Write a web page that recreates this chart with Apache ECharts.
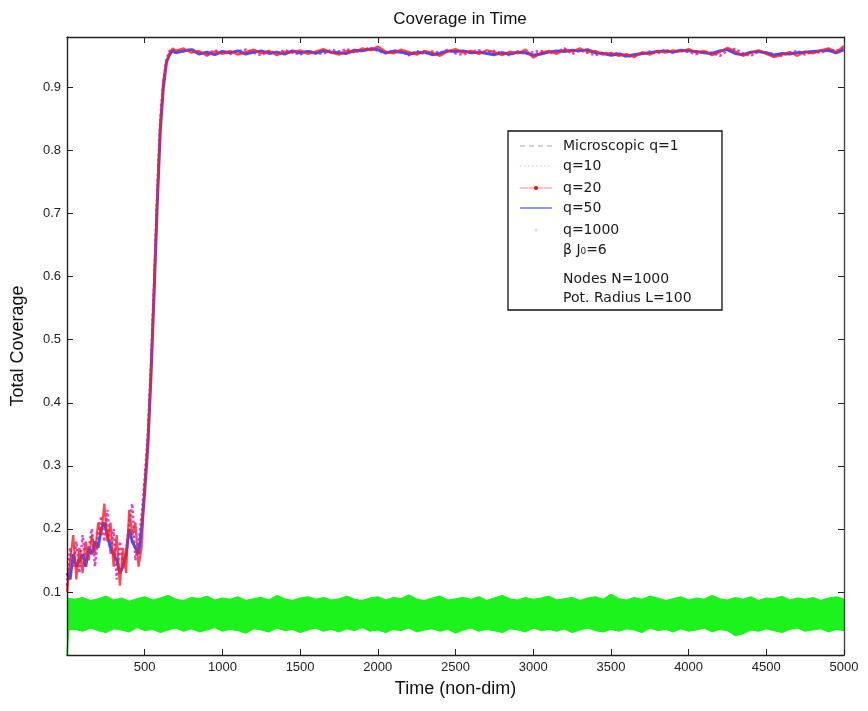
<!DOCTYPE html>
<html>
<head>
<meta charset="utf-8">
<script src="https://cdn.jsdelivr.net/npm/echarts@6/dist/echarts.min.js"></script>
<style>
  html, body { margin: 0; padding: 0; background: #fff; }
  #chart { width: 868px; height: 711px; }
</style>
</head>
<body>
<div id="chart"></div>
<script>
// time samples for the q=10 / q=20 / q=50 curves
var times = [0, 20, 40, 60, 80, 100, 120, 140, 160, 180, 200, 220, 240, 260, 280, 300, 320, 340, 360, 380,
  400, 420, 440, 460, 480, 500, 520, 540, 560, 580, 600, 620, 640, 660, 680, 700,
  750, 800, 850, 900, 950, 1000,
  1050, 1100, 1150, 1200, 1250, 1300, 1350, 1400, 1450, 1500,
  1550, 1600, 1650, 1700, 1750, 1800, 1850, 1900, 1950, 2000,
  2050, 2100, 2150, 2200, 2250, 2300, 2350, 2400, 2450, 2500,
  2550, 2600, 2650, 2700, 2750, 2800, 2850, 2900, 2950, 3000,
  3050, 3100, 3150, 3200, 3250, 3300, 3350, 3400, 3450, 3500,
  3550, 3600, 3650, 3700, 3750, 3800, 3850, 3900, 3950, 4000,
  4050, 4100, 4150, 4200, 4250, 4300, 4350, 4400, 4450, 4500,
  4550, 4600, 4650, 4700, 4750, 4800, 4850, 4900, 4950, 5000];

var q10 = [0.11, 0.17, 0.14, 0.18, 0.13, 0.19, 0.15, 0.17, 0.20, 0.14, 0.19, 0.22, 0.18, 0.23, 0.16, 0.20, 0.12, 0.18, 0.14, 0.16,
  0.21, 0.24, 0.15, 0.18, 0.22, 0.28, 0.35, 0.46, 0.59, 0.73, 0.85, 0.91, 0.945, 0.958, 0.96, 0.957,
  0.957, 0.961, 0.955, 0.953, 0.959, 0.956,
  0.953, 0.957, 0.960, 0.955, 0.951, 0.958, 0.954, 0.959, 0.956, 0.952,
  0.958, 0.955, 0.953, 0.960, 0.957, 0.961, 0.955, 0.959, 0.963, 0.958,
  0.954, 0.959, 0.957, 0.951, 0.958, 0.953, 0.957, 0.955, 0.960, 0.954,
  0.952, 0.957, 0.959, 0.955, 0.958, 0.954, 0.951, 0.957, 0.953, 0.956,
  0.958, 0.954, 0.956, 0.962, 0.953, 0.959, 0.955, 0.951, 0.956, 0.953,
  0.955, 0.948, 0.951, 0.953, 0.957, 0.954, 0.960, 0.955, 0.958, 0.956,
  0.953, 0.957, 0.955, 0.950, 0.958, 0.961, 0.954, 0.950, 0.957, 0.955,
  0.953, 0.950, 0.955, 0.958, 0.952, 0.957, 0.955, 0.960, 0.958, 0.962];

var q20 = [0.10, 0.15, 0.19, 0.12, 0.17, 0.13, 0.18, 0.15, 0.19, 0.16, 0.21, 0.19, 0.24, 0.18, 0.21, 0.14, 0.19, 0.11, 0.17, 0.13,
  0.23, 0.19, 0.21, 0.14, 0.17, 0.27, 0.34, 0.45, 0.58, 0.72, 0.84, 0.91, 0.94, 0.955, 0.962, 0.958,
  0.962, 0.955, 0.958, 0.950, 0.957, 0.953,
  0.958, 0.952, 0.956, 0.960, 0.954, 0.958, 0.951, 0.957, 0.955, 0.959,
  0.953, 0.957, 0.961, 0.955, 0.952, 0.958, 0.956, 0.962, 0.959, 0.965,
  0.957, 0.954, 0.960, 0.956, 0.952, 0.958, 0.955, 0.950, 0.957, 0.961,
  0.955, 0.958, 0.953, 0.959, 0.956, 0.951, 0.957, 0.954, 0.960, 0.947,
  0.955, 0.958, 0.953, 0.960, 0.957, 0.962, 0.956, 0.958, 0.952, 0.955,
  0.950, 0.953, 0.948, 0.956, 0.952, 0.958, 0.955, 0.959, 0.957, 0.961,
  0.955, 0.958, 0.951, 0.956, 0.963, 0.957, 0.950, 0.955, 0.959, 0.953,
  0.948, 0.952, 0.956, 0.950, 0.957, 0.954, 0.959, 0.962, 0.956, 0.966];

var q50 = [0.13, 0.12, 0.16, 0.14, 0.15, 0.16, 0.14, 0.17, 0.16, 0.18, 0.17, 0.20, 0.21, 0.19, 0.17, 0.16, 0.15, 0.13, 0.14, 0.16,
  0.20, 0.18, 0.17, 0.16, 0.20, 0.26, 0.33, 0.44, 0.57, 0.71, 0.83, 0.90, 0.94, 0.952, 0.958, 0.955,
  0.958, 0.960, 0.953, 0.956, 0.952, 0.957,
  0.955, 0.958, 0.953, 0.956, 0.958, 0.954, 0.956, 0.953, 0.958, 0.955,
  0.957, 0.954, 0.958, 0.956, 0.955, 0.954, 0.959, 0.958, 0.961, 0.960,
  0.955, 0.957, 0.956, 0.953, 0.955, 0.956, 0.952, 0.954, 0.958, 0.957,
  0.958, 0.955, 0.956, 0.954, 0.952, 0.955, 0.953, 0.956, 0.955, 0.951,
  0.953, 0.956, 0.958, 0.957, 0.959, 0.958, 0.960, 0.955, 0.954, 0.951,
  0.953, 0.950, 0.952, 0.954, 0.955, 0.957, 0.958, 0.956, 0.959, 0.958,
  0.957, 0.955, 0.954, 0.958, 0.960, 0.954, 0.952, 0.956, 0.957, 0.955,
  0.951, 0.954, 0.953, 0.955, 0.956, 0.957, 0.958, 0.959, 0.955, 0.960];

// q=1000: upper and lower edge of the noisy green band
var greenTimes = [0, 10, 50, 100, 150, 200, 250, 300, 350, 400, 450, 500, 550, 600, 650, 700, 750, 800, 850, 900, 950, 1000,
  1050, 1100, 1150, 1200, 1250, 1300, 1350, 1400, 1450, 1500, 1550, 1600, 1650, 1700, 1750, 1800, 1850, 1900, 1950, 2000,
  2050, 2100, 2150, 2200, 2250, 2300, 2350, 2400, 2450, 2500, 2550, 2600, 2650, 2700, 2750, 2800, 2850, 2900, 2950, 3000,
  3050, 3100, 3150, 3200, 3250, 3300, 3350, 3400, 3450, 3500, 3550, 3600, 3650, 3700, 3750, 3800, 3850, 3900, 3950, 4000,
  4050, 4100, 4150, 4200, 4250, 4300, 4350, 4400, 4450, 4500, 4550, 4600, 4650, 4700, 4750, 4800, 4850, 4900, 4950, 5000];

var greenHigh = [0.090, 0.088,
  0.088, 0.091, 0.086, 0.089, 0.093, 0.087, 0.090, 0.085, 0.089, 0.092,
  0.087, 0.090, 0.094, 0.088, 0.086, 0.091, 0.089, 0.093, 0.087, 0.090,
  0.088, 0.092, 0.086, 0.089, 0.091, 0.087, 0.094, 0.089, 0.086, 0.090,
  0.092, 0.088, 0.091, 0.087, 0.089, 0.093, 0.088, 0.086, 0.090, 0.092,
  0.087, 0.091, 0.089, 0.095, 0.088, 0.086, 0.090, 0.093, 0.087, 0.089,
  0.091, 0.088, 0.092, 0.086, 0.090, 0.094, 0.089, 0.087, 0.091, 0.088,
  0.090, 0.093, 0.087, 0.089, 0.091, 0.086, 0.090, 0.092, 0.088, 0.096,
  0.089, 0.087, 0.091, 0.088, 0.093, 0.090, 0.086, 0.089, 0.092, 0.087,
  0.090, 0.088, 0.094, 0.089, 0.087, 0.091, 0.088, 0.092, 0.086, 0.090,
  0.089, 0.093, 0.087, 0.090, 0.088, 0.091, 0.086, 0.090, 0.092, 0.088];

var greenLow = [0.0, 0.040,
  0.041, 0.038, 0.043, 0.039, 0.036, 0.042, 0.040, 0.037, 0.044, 0.039,
  0.041, 0.036, 0.040, 0.043, 0.038, 0.042, 0.037, 0.040, 0.044, 0.038,
  0.041, 0.039, 0.035, 0.042, 0.040, 0.037, 0.043, 0.039, 0.041, 0.036,
  0.040, 0.043, 0.038, 0.041, 0.037, 0.042, 0.039, 0.044, 0.038, 0.040,
  0.036, 0.041, 0.039, 0.043, 0.037, 0.040, 0.042, 0.038, 0.041, 0.035,
  0.040, 0.043, 0.038, 0.041, 0.039, 0.036, 0.042, 0.040, 0.037, 0.043,
  0.039, 0.041, 0.038, 0.042, 0.036, 0.040, 0.043, 0.039, 0.037, 0.041,
  0.038, 0.042, 0.040, 0.036, 0.043, 0.039, 0.041, 0.037, 0.042, 0.038,
  0.040, 0.043, 0.037, 0.041, 0.039, 0.031, 0.034, 0.040, 0.038, 0.042,
  0.039, 0.036, 0.041, 0.043, 0.038, 0.040, 0.042, 0.037, 0.041, 0.039];

var chart = echarts.init(document.getElementById('chart'), null, { renderer: 'canvas' });

var sansFont = '"Liberation Sans", Arial, sans-serif';
var legendFont = '"DejaVu Sans", sans-serif';
var green = '#1cf21c';

function pairs(xs, ys) {
  return xs.map(function (x, i) { return [x, ys[i]]; });
}

// legend box, drawn by hand like the matlab one
var legendX = 508, legendY = 131;
var rowsY = [146, 166, 188, 208, 230, 250, 279, 298];
var rowText = ['Microscopic q=1', 'q=10', 'q=20', 'q=50', 'q=1000', 'β J₀=6', 'Nodes N=1000', 'Pot. Radius L=100'];
var legendGraphics = [{
  type: 'rect',
  shape: { x: legendX, y: legendY, width: 214, height: 179 },
  style: { fill: '#fff', stroke: '#111', lineWidth: 1.3 },
  z: 10
}];
rowText.forEach(function (t, i) {
  legendGraphics.push({
    type: 'text', x: 563, y: rowsY[i], z: 11,
    style: { text: t, font: '14px ' + legendFont, fill: '#1a1a1a', verticalAlign: 'middle' }
  });
});
legendGraphics.push(
  { type: 'line', z: 11, shape: { x1: 520, y1: rowsY[0], x2: 552, y2: rowsY[0] },
    style: { stroke: '#a8a8a8', lineWidth: 1.2, lineDash: [5, 4] } },
  { type: 'line', z: 11, shape: { x1: 520, y1: rowsY[1], x2: 552, y2: rowsY[1] },
    style: { stroke: '#f2b4f2', lineWidth: 1.2, lineDash: [1.5, 2.5] } },
  { type: 'line', z: 11, shape: { x1: 520, y1: rowsY[2], x2: 552, y2: rowsY[2] },
    style: { stroke: '#ffb0b0', lineWidth: 1.5 } },
  { type: 'circle', z: 12, shape: { cx: 536, cy: rowsY[2], r: 2 }, style: { fill: '#ff0000' } },
  { type: 'line', z: 11, shape: { x1: 520, y1: rowsY[3], x2: 552, y2: rowsY[3] },
    style: { stroke: '#5a5aff', lineWidth: 1.3 } },
  { type: 'circle', z: 12, shape: { cx: 536, cy: rowsY[4], r: 1.5 }, style: { fill: '#bdf2cf' } }
);

var option = {
  animation: false,
  backgroundColor: '#fff',
  title: {
    text: 'Coverage in Time',
    left: 455,
    top: 6,
    textAlign: 'center',
    textStyle: { fontFamily: sansFont, fontSize: 17, fontWeight: 'normal', color: '#111' }
  },
  grid: { left: 67, right: 24, top: 37, bottom: 56 },
  xAxis: [{
    type: 'value',
    min: 0, max: 5000, interval: 500,
    z: 5,
    name: 'Time (non-dim)',
    nameLocation: 'middle',
    nameGap: 25,
    nameTextStyle: { fontFamily: sansFont, fontSize: 18, color: '#111' },
    axisLine: { onZero: false, lineStyle: { color: '#222', width: 1.4 } },
    axisTick: { inside: true, length: 6, lineStyle: { color: '#222' } },
    axisLabel: {
      fontFamily: sansFont, fontSize: 13, color: '#222', margin: 6,
      formatter: function (v) { return v === 0 ? '' : String(v); }
    },
    splitLine: { show: false }
  }, {
    type: 'value', position: 'top',
    min: 0, max: 5000, interval: 500,
    z: 5,
    axisLine: { onZero: false, lineStyle: { color: '#222', width: 1.4 } },
    axisTick: { inside: true, length: 6, lineStyle: { color: '#222' } },
    axisLabel: { show: false },
    splitLine: { show: false }
  }],
  yAxis: [{
    type: 'value',
    min: 0, max: 0.98, interval: 0.1,
    z: 5,
    name: 'Total Coverage',
    nameLocation: 'middle',
    nameGap: 40,
    nameTextStyle: { fontFamily: sansFont, fontSize: 18, color: '#111' },
    axisLine: { show: true, onZero: false, lineStyle: { color: '#222', width: 1.4 } },
    axisTick: { show: true, inside: true, length: 6, lineStyle: { color: '#222' } },
    axisLabel: {
      fontFamily: sansFont, fontSize: 13, color: '#222', margin: 6,
      formatter: function (v) { return (v === 0 || v > 0.95) ? '' : v.toFixed(1); }
    },
    splitLine: { show: false }
  }, {
    type: 'value', position: 'right',
    min: 0, max: 0.98, interval: 0.1,
    z: 5,
    axisLine: { show: true, onZero: false, lineStyle: { color: '#444', width: 1.4 } },
    axisTick: { show: true, inside: true, length: 6, lineStyle: { color: '#222' } },
    axisLabel: { show: false },
    splitLine: { show: false }
  }],
  graphic: legendGraphics,
  series: [{
    // green band: fill under the upper edge...
    name: 'q=1000',
    type: 'line',
    data: pairs(greenTimes, greenHigh),
    showSymbol: false,
    lineStyle: { color: green, width: 1.5 },
    areaStyle: { color: green, opacity: 1, origin: 'start' }
  }, {
    // ...then blank out everything under the lower edge
    name: 'q=1000 low',
    type: 'line',
    data: pairs(greenTimes, greenLow),
    showSymbol: false,
    lineStyle: { color: green, width: 1.5 },
    areaStyle: { color: '#fff', opacity: 1, origin: 'start' }
  }, {
    name: 'q=10',
    type: 'line',
    data: pairs(times, q10),
    showSymbol: false,
    lineStyle: { color: '#e03ce0', width: 2.5, type: 'dotted' }
  }, {
    name: 'q=50',
    type: 'line',
    data: pairs(times, q50),
    showSymbol: false,
    lineStyle: { color: '#4a4aff', width: 3 }
  }, {
    name: 'q=20',
    type: 'line',
    data: pairs(times, q20),
    showSymbol: false,
    lineStyle: { color: '#ff1a1a', width: 2.2, opacity: 0.8 }
  }]
};

chart.setOption(option);
</script>
</body>
</html>
